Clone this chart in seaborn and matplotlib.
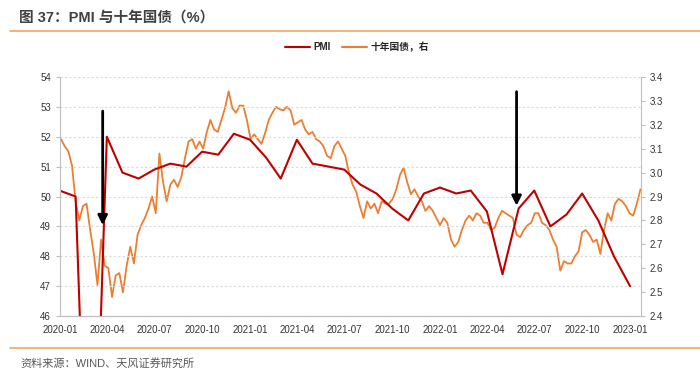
import pandas as pd
import matplotlib.pyplot as plt
import matplotlib.dates as mdates
import seaborn as sns

# PMI, month-end values (Dec 2019 .. Dec 2022)
pmi_dates = pd.date_range('2019-12-31', '2022-12-31', freq='ME')
pmi_values = [50.2, 50.0, 35.7, 52.0, 50.8, 50.6, 50.9, 51.1, 51.0, 51.5, 51.4, 52.1, 51.9,
              51.3, 50.6, 51.9, 51.1, 51.0, 50.9, 50.4, 50.1, 49.6, 49.2, 50.1, 50.3,
              50.1, 50.2, 49.5, 47.4, 49.6, 50.2, 49.0, 49.4, 50.1, 49.2, 48.0, 47.0]

# 10y government bond yield, weekly readings (Fridays from 2020-01-03)
bond_dates = pd.date_range('2020-01-03', periods=160, freq='7D')
bond_values = [3.14, 3.11, 3.09, 3.03, 2.88, 2.80, 2.86, 2.87, 2.76, 2.66,
               2.53, 2.72, 2.61, 2.60, 2.48, 2.57, 2.58, 2.50, 2.61, 2.69,
               2.62, 2.74, 2.78, 2.81, 2.85, 2.90, 2.83, 3.08, 2.96, 2.88,
               2.95, 2.97, 2.94, 2.98, 3.06, 3.13, 3.14, 3.10, 3.13, 3.10,
               3.17, 3.22, 3.18, 3.17, 3.22, 3.27, 3.34, 3.27, 3.25, 3.28,
               3.28, 3.22, 3.14, 3.16, 3.14, 3.12, 3.165, 3.22, 3.25, 3.275,
               3.265, 3.26, 3.275, 3.26, 3.20, 3.21, 3.22, 3.18, 3.16, 3.17,
               3.14, 3.13, 3.11, 3.07, 3.06, 3.11, 3.13, 3.10, 3.07, 3.00,
               2.95, 2.92, 2.86, 2.81, 2.88, 2.85, 2.87, 2.83, 2.88, 2.87,
               2.87, 2.89, 2.93, 2.99, 3.02, 2.96, 2.91, 2.93, 2.90, 2.88,
               2.84, 2.86, 2.84, 2.81, 2.78, 2.81, 2.79, 2.72, 2.69, 2.71,
               2.76, 2.80, 2.82, 2.80, 2.83, 2.82, 2.79, 2.79, 2.76, 2.77,
               2.81, 2.84, 2.83, 2.82, 2.81, 2.74, 2.73, 2.76, 2.78, 2.79,
               2.83, 2.83, 2.79, 2.78, 2.76, 2.72, 2.69, 2.59, 2.63, 2.62,
               2.62, 2.65, 2.67, 2.75, 2.76, 2.74, 2.71, 2.72, 2.66, 2.76,
               2.83, 2.80, 2.87, 2.89, 2.88, 2.86, 2.83, 2.82, 2.87, 2.93]

left_ticks = [46, 47, 48, 49, 50, 51, 52, 53, 54]
right_ticks = [2.4, 2.5, 2.6, 2.7, 2.8, 2.9, 3.0, 3.1, 3.2, 3.3, 3.4]

pmi_df = pd.DataFrame({'date': pmi_dates, 'PMI': pmi_values})
bond_df = pd.DataFrame({'date': bond_dates, 'yield': bond_values})

sns.set_style('white')
plt.rcParams['font.family'] = ['Liberation Sans', 'Noto Sans CJK SC', 'DejaVu Sans']
plt.rcParams['axes.unicode_minus'] = False

red = '#C00000'
orange = '#ED7D31'
gray = '#BFBFBF'

fig = plt.figure(figsize=(7, 3.79), dpi=100)
ax = fig.add_axes([0.0857, 0.166, 0.83, 0.631])
ax2 = ax.twinx()

sns.lineplot(data=bond_df, x='date', y='yield', ax=ax2, color=orange, linewidth=1.3)
sns.lineplot(data=pmi_df, x='date', y='PMI', ax=ax, color=red, linewidth=1.5)
ax.set_zorder(ax2.get_zorder() + 1)
ax.patch.set_visible(False)

ax.set_xlim(pd.Timestamp('2020-01-01'), pd.Timestamp('2023-01-21'))
ax.set_ylim(46, 54)
ax2.set_ylim(2.4, 3.4)
ax.set_yticks(left_ticks)
ax2.set_yticks(right_ticks)
ax2.set_yticklabels([f'{v:.1f}' for v in right_ticks])
ax.xaxis.set_major_locator(mdates.MonthLocator(bymonth=[1, 4, 7, 10]))
ax.xaxis.set_major_formatter(mdates.DateFormatter('%Y-%m'))

ax.grid(axis='y', color='#D9D9D9', linestyle=(0, (2, 2)), linewidth=0.8)
ax2.grid(False)
for a in (ax, ax2):
    a.set_xlabel('')
    a.set_ylabel('')
    a.spines['top'].set_visible(False)
    for s in ('left', 'right', 'bottom'):
        a.spines[s].set_color(gray)
    a.tick_params(axis='both', colors='#333333', labelsize=7, length=3, color=gray)
ax2.spines['left'].set_visible(False)
ax.spines['right'].set_visible(False)

# arrows
ax.annotate('', xy=(pd.Timestamp('2020-03-23'), 48.95), xytext=(pd.Timestamp('2020-03-23'), 52.95),
            arrowprops=dict(arrowstyle='-|>', color='black', lw=2, mutation_scale=14))
ax.annotate('', xy=(pd.Timestamp('2022-05-27'), 49.6), xytext=(pd.Timestamp('2022-05-27'), 53.6),
            arrowprops=dict(arrowstyle='-|>', color='black', lw=2, mutation_scale=14),
            annotation_clip=False)

# legend
handles = [plt.Line2D([], [], color=red, lw=1.5), plt.Line2D([], [], color=orange, lw=1.5)]
fig.legend(handles, ['PMI', '十年国债，右'], loc='center', bbox_to_anchor=(0.51, 0.876), ncol=2,
           frameon=False, prop={'size': 7, 'weight': 'bold'}, handlelength=2.6,
           columnspacing=1.2, handletextpad=0.3)

# title, rules and source
fig.text(0.027, 0.955, '图 37：PMI 与十年国债（%）', fontsize=10.5, fontweight='bold',
         color='#404040', va='center')
fig.add_artist(plt.Line2D([0.014, 1.0], [0.918, 0.918], color='#F4A460', lw=1.2))
fig.add_artist(plt.Line2D([0.014, 1.0], [0.082, 0.082], color='#F4A460', lw=1.2))
fig.text(0.029, 0.042, '资料来源：WIND、天风证券研究所', fontsize=8, color='#595959', va='center')

plt.savefig('out.png', dpi=100)
